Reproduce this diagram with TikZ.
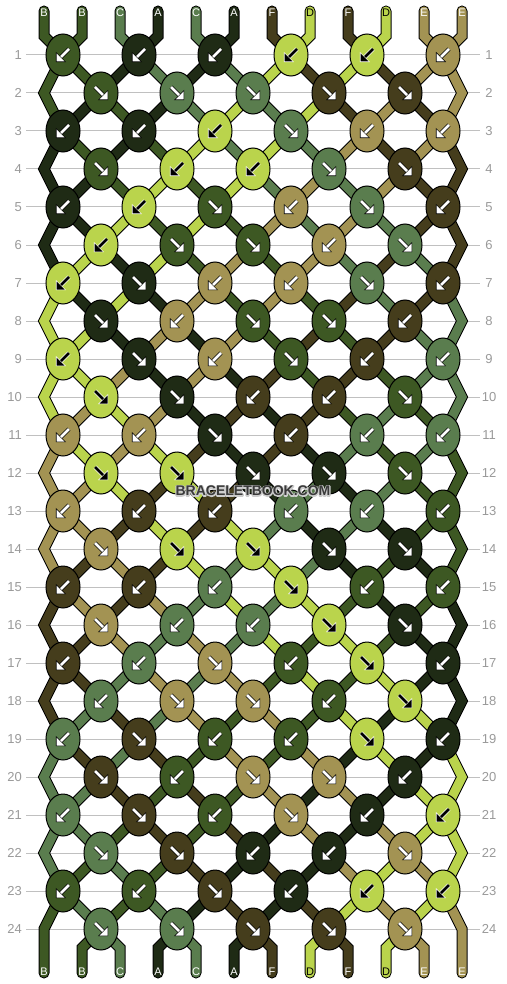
\documentclass[tikz,border=0pt]{standalone}
\usepackage{fontspec}
\setmainfont{Liberation Sans}
\usetikzlibrary{shapes.geometric}
\definecolor{cB}{HTML}{3D5823}
\definecolor{cA}{HTML}{1F2B15}
\definecolor{cC}{HTML}{5A7D4E}
\definecolor{cD}{HTML}{BAD44C}
\definecolor{cE}{HTML}{A39353}
\definecolor{cF}{HTML}{453D1C}
\colorlet{arrowA}{white}\colorlet{arrowB}{white}\colorlet{arrowC}{white}
\colorlet{arrowD}{black}\colorlet{arrowE}{white}\colorlet{arrowF}{white}
\colorlet{haloA}{black}\colorlet{haloB}{black}\colorlet{haloC}{black}
\colorlet{haloD}{white}\colorlet{haloE}{black}\colorlet{haloF}{black}
\definecolor{gridgrey}{HTML}{C0C0C0}
\definecolor{numgrey}{HTML}{9A9A9A}
\definecolor{wmdark}{HTML}{3A3A3A}
\tikzset{
  strand/.style={line width=1pt, double=#1, double distance=9pt, line cap=round, line join=miter, miter limit=10},
  knotshape/.style={ellipse, draw=black, line width=1pt, fill=#1, minimum width=34pt, minimum height=42pt, inner sep=0pt},
  gridline/.style={draw=gridgrey, line width=1pt},
  rownum/.style={text=numgrey, font=\fontsize{13}{13}\selectfont, inner sep=0pt},
  strlabel/.style={font=\fontsize{11}{11}\selectfont, inner sep=0pt},
  wmtext/.style={font=\fontsize{14}{14}\selectfont\bfseries, inner sep=0pt},
  dirL/.style={},
  dirR/.style={xscale=-1},
}
\newcommand{\wmhalo}[1]{\rlap{\special{pdf:literal direct 1 Tr 2.2 w 0.8 0.8 0.8 RG 1 J 1 j}#1\special{pdf:literal direct 0 Tr}}#1}
\begin{document}
\begin{tikzpicture}[x=1pt,y=-1pt]
\useasboundingbox (0,0) rectangle (506,984);
\fill[white] (0,0) rectangle (506,984);

% grid lines and row numbers
\foreach \rw in {1,...,24}{
  \pgfmathsetmacro\yy{55+38*(\rw-1)}
  \coordinate (gl-\rw) at (26,\yy);
  \coordinate (gr-\rw) at (480,\yy);
  \draw[gridline] (gl-\rw) -- (gr-\rw);
  \node[rownum, anchor=east] (nl-\rw) at (22,\yy) {\rw};
  \node[rownum] (nr-\rw) at (489,\yy) {\rw};
}

% end coordinates of the strings
\foreach \jj in {0,...,11}{
  \pgfmathsetmacro\xx{44+38*\jj}
  \coordinate (t-\jj) at (\xx,11);
  \coordinate (tb-\jj) at (\xx,36);
  \coordinate (bb-\jj) at (\xx,948);
  \coordinate (b-\jj) at (\xx,973);
}

% position of every string in every row
\foreach \rw in {1,...,24}{
  \foreach \jj in {0,...,11}{
    \pgfmathsetmacro\yy{55+38*(\rw-1)}
    \ifodd\rw\relax
      \pgfmathsetmacro\xx{63+76*floor(\jj/2)}
    \else
      \ifnum\jj=0 \def\xx{44}\else\ifnum\jj=11 \def\xx{462}\else
        \pgfmathsetmacro\xx{101+76*floor((\jj-1)/2)}
      \fi\fi
    \fi
    \coordinate (p-\rw-\jj) at (\xx,\yy);
  }
}

% strings
\foreach \rw/\sts in {
 0/{B,B,C,A,C,A,F,D,F,D,E,E},
 1/{B,B,A,C,A,C,D,F,D,F,E,E},
 2/{B,A,B,A,C,D,C,D,F,E,F,E},
 3/{A,B,A,B,D,C,D,C,E,F,E,F},
 4/{A,A,B,D,B,D,C,E,C,E,F,F},
 5/{A,A,D,B,D,B,E,C,E,C,F,F},
 6/{A,D,A,D,B,E,B,E,C,F,C,F},
 7/{D,A,D,A,E,B,E,B,F,C,F,C},
 8/{D,D,A,E,A,E,B,F,B,F,C,C},
 9/{D,D,E,A,E,A,F,B,F,B,C,C},
 10/{D,E,D,E,A,F,A,F,B,C,B,C},
 11/{E,D,E,D,F,A,F,A,C,B,C,B},
 12/{E,E,D,F,D,F,A,C,A,C,B,B},
 13/{E,E,F,D,F,D,C,A,C,A,B,B},
 14/{E,F,E,F,D,C,D,C,A,B,A,B},
 15/{F,E,F,E,C,D,C,D,B,A,B,A},
 16/{F,F,E,C,E,C,D,B,D,B,A,A},
 17/{F,F,C,E,C,E,B,D,B,D,A,A},
 18/{F,C,F,C,E,B,E,B,D,A,D,A},
 19/{C,F,C,F,B,E,B,E,A,D,A,D},
 20/{C,C,F,B,F,B,E,A,E,A,D,D},
 21/{C,C,B,F,B,F,A,E,A,E,D,D},
 22/{C,B,C,B,F,A,F,A,E,D,E,D},
 23/{B,C,B,C,A,F,A,F,D,E,D,E},
 24/{B,B,C,A,C,A,F,D,F,D,E,E}}{
  \pgfmathtruncatemacro\rn{\rw+1}
  \pgfmathtruncatemacro\rp{\rw-1}
  \foreach \col [count=\jj from 0] in \sts {
    \ifnum\rw=0
      \draw[strand=c\col] (t-\jj) -- (tb-\jj) -- (p-1-\jj);
    \else
      \ifnum\jj=0 \def\edgeflag{1}\else\ifnum\jj=11 \def\edgeflag{1}\else\def\edgeflag{0}\fi\fi
      \ifnum\edgeflag=1
        \ifodd\rw\relax\else
          \ifnum\rw=24
            \draw[strand=c\col] (p-23-\jj) -- (p-24-\jj) -- (b-\jj);
          \else
            \draw[strand=c\col] (p-\rp-\jj) -- (p-\rw-\jj) -- (p-\rn-\jj);
          \fi
        \fi
      \else
        \ifnum\rw=24
          \draw[strand=c\col] (p-24-\jj) -- (bb-\jj) -- (b-\jj);
        \else
          \draw[strand=c\col] (p-\rw-\jj) -- (p-\rn-\jj);
        \fi
      \fi
    \fi
  }
}

% knots
\foreach \rw/\kl in {
 1/{B/L,A/L,A/L,D/L,D/L,E/L},
 2/{B/R,C/R,C/R,F/R,F/R},
 3/{A/L,A/L,D/L,C/R,E/L,E/L},
 4/{B/R,D/L,D/L,C/R,F/R},
 5/{A/L,D/L,B/R,E/L,C/R,F/L},
 6/{D/L,B/R,B/R,E/L,C/R},
 7/{D/L,A/R,E/L,E/L,C/R,F/L},
 8/{A/R,E/L,B/R,B/R,F/L},
 9/{D/L,A/R,E/L,B/R,F/L,C/L},
 10/{D/R,A/R,F/L,F/L,B/R},
 11/{E/L,E/L,A/R,F/L,C/L,C/L},
 12/{D/R,D/R,A/R,A/R,B/R},
 13/{E/L,F/L,F/L,C/L,C/L,B/L},
 14/{E/R,D/R,D/R,A/R,A/R},
 15/{F/L,F/L,C/L,D/R,B/L,B/L},
 16/{E/R,C/L,C/L,D/R,A/R},
 17/{F/L,C/L,E/R,B/L,D/R,A/L},
 18/{C/L,E/R,E/R,B/L,D/R},
 19/{C/L,F/R,B/L,B/L,D/R,A/L},
 20/{F/R,B/L,E/R,E/R,A/L},
 21/{C/L,F/R,B/L,E/R,A/L,D/L},
 22/{C/R,F/R,A/L,A/L,E/R},
 23/{B/L,B/L,F/R,A/L,D/L,D/L},
 24/{C/R,C/R,F/R,F/R,E/R}}{
  \foreach \col/\kd [count=\kn from 0] in \kl {
    \pgfmathtruncatemacro\jj{2*\kn+1-mod(\rw,2)}
    \node[knotshape=c\col] (k-\rw-\jj) at (p-\rw-\jj) {};
    \begin{scope}[shift={(k-\rw-\jj.center)}, dir\kd]
      \draw[line width=4.2pt, draw=halo\col] (6,-6) -- (-2,2);
      \filldraw[line width=1.4pt, line join=miter, draw=halo\col, fill=halo\col] (-6.5,6.5) -- (-6.5,-1.5) -- (1.5,6.5) -- cycle;
      \draw[line width=2.6pt, draw=arrow\col] (6,-6) -- (-2,2);
      \fill[arrow\col] (-6.5,6.5) -- (-6.5,-1.5) -- (1.5,6.5) -- cycle;
    \end{scope}
  }
}

% string labels
\foreach \col [count=\jj from 0] in {B,B,C,A,C,A,F,D,F,D,E,E}{
  \pgfmathsetmacro\xx{44+38*\jj}
  \node[strlabel, text=arrow\col] (lt-\jj) at (\xx,12.5) {\col};
  \node[strlabel, text=arrow\col] (lb-\jj) at (\xx,972) {\col};
}

% watermark
\node[wmtext, text=wmdark] (wm) at (253,491) {\wmhalo{BRACELETBOOK.COM}};
\end{tikzpicture}
\end{document}
